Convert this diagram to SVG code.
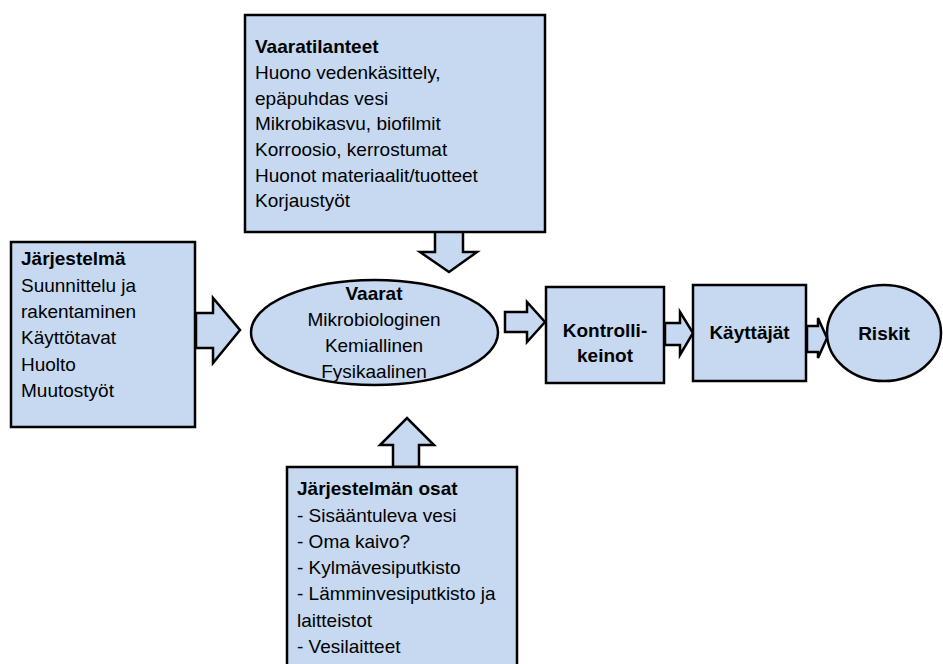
<svg xmlns="http://www.w3.org/2000/svg" width="943" height="664" viewBox="0 0 943 664">
<style>
.s{fill:#c6d9f1;stroke:#000;stroke-width:2.5;stroke-linejoin:miter}
text{font-family:"Liberation Sans",Arial,sans-serif;font-size:19px;fill:#000}
.b{font-weight:bold}
.c{text-anchor:middle}
</style>
<rect width="943" height="664" fill="#fff"/>
<g id="connectors">
<polygon class="s" points="435,231 463,231 463,252 477,252 449,272 420,252 435,252"/>
<polygon class="s" points="196,313 213,313 213,298 240,330 213,363 213,348 196,348"/>
<polygon class="s" points="505,312 527,312 527,302 545,322 527,342 527,332 505,332"/>
<polygon class="s" points="665,323 680,323 680,312 693,333 680,355 680,345 665,345"/>
<polygon class="s" points="807,326 818,326 818,318 827,338 818,358 818,352 807,352"/>
<polygon class="s" points="393,467 393,445 380,445 407,418 434,445 419,445 419,467"/>
</g>
<g id="vaaratilanteet">
<rect class="s" x="245" y="15" width="300" height="217"/>
<text x="255" y="53" class="b">Vaaratilanteet</text>
<text x="255" y="79">Huono vedenkäsittely,</text>
<text x="255" y="105">epäpuhdas vesi</text>
<text x="255" y="130">Mikrobikasvu, biofilmit</text>
<text x="255" y="156">Korroosio, kerrostumat</text>
<text x="255" y="182">Huonot materiaalit/tuotteet</text>
<text x="255" y="207">Korjaustyöt</text>
</g>
<g id="jarjestelma">
<rect class="s" x="11" y="242" width="184" height="185"/>
<text x="21" y="265" class="b">Järjestelmä</text>
<text x="21" y="292">Suunnittelu ja</text>
<text x="21" y="318">rakentaminen</text>
<text x="21" y="344">Käyttötavat</text>
<text x="21" y="371">Huolto</text>
<text x="21" y="397">Muutostyöt</text>
</g>
<g id="vaarat">
<ellipse class="s" cx="374.5" cy="332.5" rx="123.5" ry="52.5"/>
<text x="374" y="300" class="b c">Vaarat</text>
<text x="374" y="326" class="c">Mikrobiologinen</text>
<text x="374" y="352" class="c">Kemiallinen</text>
<text x="374" y="378" class="c">Fysikaalinen</text>
</g>
<g id="kontrollikeinot">
<rect class="s" x="546" y="287" width="118" height="96"/>
<text x="605" y="337" class="b c">Kontrolli-</text>
<text x="605" y="362" class="b c">keinot</text>
</g>
<g id="kayttajat">
<rect class="s" x="693" y="285" width="113" height="96"/>
<text x="749.5" y="339" class="b c">Käyttäjät</text>
</g>
<g id="riskit">
<ellipse class="s" cx="884" cy="333" rx="57" ry="48"/>
<text x="884" y="340" class="b c">Riskit</text>
</g>
<g id="osat">
<rect class="s" x="287" y="467" width="230" height="210"/>
<text x="297" y="495" class="b">Järjestelmän osat</text>
<text x="297" y="522">- Sisääntuleva vesi</text>
<text x="297" y="548">- Oma kaivo?</text>
<text x="297" y="574">- Kylmävesiputkisto</text>
<text x="297" y="600">- Lämminvesiputkisto ja</text>
<text x="297" y="627">laitteistot</text>
<text x="297" y="653">- Vesilaitteet</text>
</g>
</svg>
